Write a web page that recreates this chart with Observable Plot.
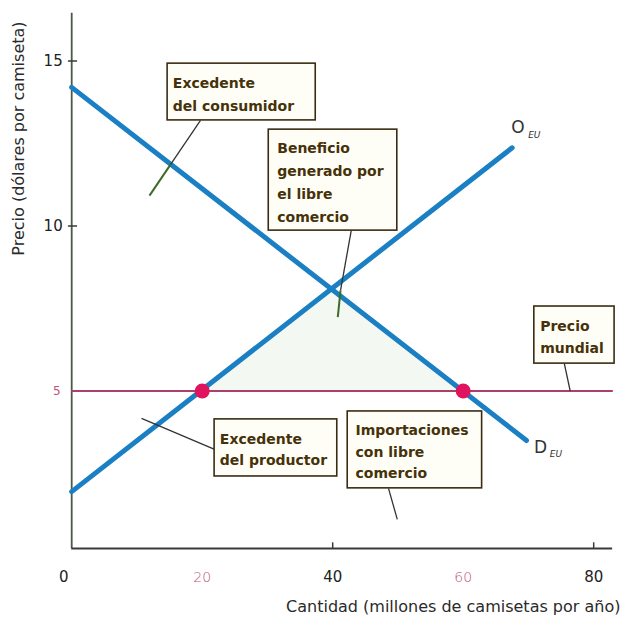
<!DOCTYPE html>
<html><head><meta charset="utf-8">
<script src="https://cdn.jsdelivr.net/npm/d3@7"></script>
<script src="https://cdn.jsdelivr.net/npm/@observablehq/plot@0.6"></script>
<style>body{margin:0;background:#fff}#chart{width:621px;height:618px}</style>
</head><body><div id="chart"></div>
<script>
// ---- data ----
const demandQ = [0, 69.7];
const demandP = [14.2, 3.5];
const supplyQ = [0, 67.5];
const supplyP = [1.95, 12.37];
const worldPrice = 5;
const worldQ = [0, 83];
const tradeQ = [20, 60];           // domestic supply / demand at world price
const gainQ = [20, 40.3, 60];      // gain-from-trade triangle
const gainP = [5, 8.1, 5];
const xTicksDark = [40, 80];
const xTicksPink = [20, 60];
const yTicksDark = [10, 15];
const yTicksPink = [5];
const boxTexts = [
  "Excedente\ndel consumidor",
  "Beneficio\ngenerado por\nel libre\ncomercio",
  "Precio\nmundial",
  "Excedente\ndel productor",
  "Importaciones\ncon libre\ncomercio"
];
const curveNames = ["O", "D"];
const curveSub = ["EU", "EU"];
const xTitle = "Cantidad (millones de camisetas por año)";
const yTitle = "Precio (dólares por camiseta)";

// ---- annotation layout (in data units) ----
const boxLayout = [
  {x1: 14.7, x2: 37.4, y1: 13.2, y2: 14.92, pad: 0.8, lh: 1.64},
  {x1: 30.2, x2: 49.9, y1: 9.86, y2: 12.92, pad: 1.3, lh: 1.66},
  {x1: 70.9, x2: 83.2, y1: 5.83, y2: 7.56, pad: 0.9, lh: 1.57},
  {x1: 21.9, x2: 40.7, y1: 2.41, y2: 4.14, pad: 0.8, lh: 1.45},
  {x1: 42.3, x2: 62.9, y1: 2.05, y2: 4.38, pad: 1.2, lh: 1.53}
];
const leadersDark = [
  {x1: 19.74, y1: 13.2, x2: 15.14, y2: 11.86},
  {x1: 42.84, y1: 9.86, x2: 41.2, y2: 8.05},
  {x1: 75.5, y1: 5.83, x2: 76.4, y2: 5.0},
  {x1: 10.7, y1: 4.17, x2: 21.9, y2: 3.23},
  {x1: 48.55, y1: 2.05, x2: 49.9, y2: 1.11}
];
const leadersGreen = [
  {x1: 15.14, y1: 11.86, x2: 11.92, y2: 10.92},
  {x1: 41.2, y1: 8.05, x2: 40.78, y2: 7.24}
];
const curveLabelPos = [
  {x: 68.4, y: 12.98, sx: 70.9, sy: 12.74, italic: false},
  {x: 71.85, y: 3.29, sx: 74.2, sy: 3.08, italic: true}
];

const demand = demandQ.map((q, i) => ({q, p: demandP[i]}));
const supply = supplyQ.map((q, i) => ({q, p: supplyP[i]}));
const gain = gainQ.map((q, i) => ({q, p: gainP[i]}));
const boxes = boxTexts.map((t, i) => ({t, ...boxLayout[i]}));
const curveLabels = curveNames.map((n, i) => ({n, s: curveSub[i], ...curveLabelPos[i]}));

const blue = "#1a7fc3", pink = "#e0145e", priceCol = "#ab3f6f";
const boxText = "#45320a", boxStroke = "#3a2c12", axisCol = "#3a3a3a";

const chart = Plot.plot({
  width: 621, height: 618,
  x: {domain: [0, 84], range: [71.2, 619.3], axis: null},
  y: {domain: [0, 16.5], range: [555.5, 11], axis: null},
  style: {fontFamily: "DejaVu Sans", background: "#fff"},
  marks: [
    // gain from trade triangle
    Plot.areaY(gain, {x: "q", y1: worldPrice, y2: "p", fill: "#f4f8f2"}),
    // axes
    Plot.ruleX([0], {y1: 0.227, y2: 16.45, stroke: "#4b5a48", strokeWidth: 1.8}),
    Plot.ruleY([0.227], {x1: 0, x2: 82.9, stroke: axisCol, strokeWidth: 1.8}),
    Plot.ruleX(xTicksDark, {y1: 0.227, y2: 0.4, stroke: axisCol, strokeWidth: 1.5}),
    Plot.ruleY(yTicksDark, {x1: -0.5, x2: 0.9, stroke: axisCol, strokeWidth: 1.5}),
    // tick labels
    Plot.text([0], {x: d => d, y: -0.65, dx: -8, text: d => String(d), fontSize: 15, fill: "#222"}),
    Plot.text(xTicksDark, {x: d => d, y: -0.65, text: d => String(d), fontSize: 15, fill: "#222"}),
    Plot.text(xTicksPink, {x: d => d, y: -0.65, text: d => String(d), fontSize: 14, fill: "#c0527f", fontWeight: 300}),
    Plot.text(yTicksDark, {x: 0, y: d => d, dx: -9, textAnchor: "end", text: d => String(d), fontSize: 15, fill: "#222"}),
    Plot.text(yTicksPink, {x: 0, y: d => d, dx: -11, textAnchor: "end", text: d => String(d), fontSize: 12, fill: "#c0527f"}),
    // axis titles
    Plot.text([xTitle], {x: 84.1, y: -1.53, textAnchor: "end", text: d => d, fontSize: 16, fill: "#2a2a2a"}),
    Plot.text([yTitle], {x: -8.15, y: 12.65, rotate: -90, text: d => d, fontSize: 16, fill: "#2a2a2a"}),
    // world price line
    Plot.ruleY([worldPrice], {x1: worldQ[0], x2: worldQ[1], stroke: priceCol, strokeWidth: 2}),
    // supply & demand
    Plot.line(demand, {x: "q", y: "p", stroke: blue, strokeWidth: 5}),
    Plot.line(supply, {x: "q", y: "p", stroke: blue, strokeWidth: 5}),
    // leader lines
    Plot.link(leadersDark, {x1: "x1", y1: "y1", x2: "x2", y2: "y2", stroke: "#333", strokeWidth: 1.3}),
    Plot.link(leadersGreen, {x1: "x1", y1: "y1", x2: "x2", y2: "y2", stroke: "#3e6a2a", strokeWidth: 2}),
    // trade points
    Plot.dot(tradeQ, {x: d => d, y: worldPrice, r: 7.5, fill: pink}),
    // boxes
    Plot.rect(boxes, {x1: "x1", x2: "x2", y1: "y1", y2: "y2", fill: "#fffef6", stroke: boxStroke, strokeWidth: 1.6}),
    ...boxes.map(b => Plot.text([b], {x: d => d.x1 + d.pad, y: d => (d.y1 + d.y2) / 2, text: "t",
      textAnchor: "start", lineHeight: b.lh, fontSize: 14, fontWeight: "bold", fill: boxText})),
    // curve labels
    Plot.text(curveLabels, {x: "x", y: "y", text: "n", fontSize: 17, fill: "#333",
      fontStyle: d => d.italic ? "italic" : "normal"}),
    Plot.text(curveLabels, {x: "sx", y: "sy", text: "s", fontSize: 9, fontStyle: "italic", fill: "#333"})
  ]
});
document.getElementById("chart").appendChild(chart);
</script>
</body></html>
